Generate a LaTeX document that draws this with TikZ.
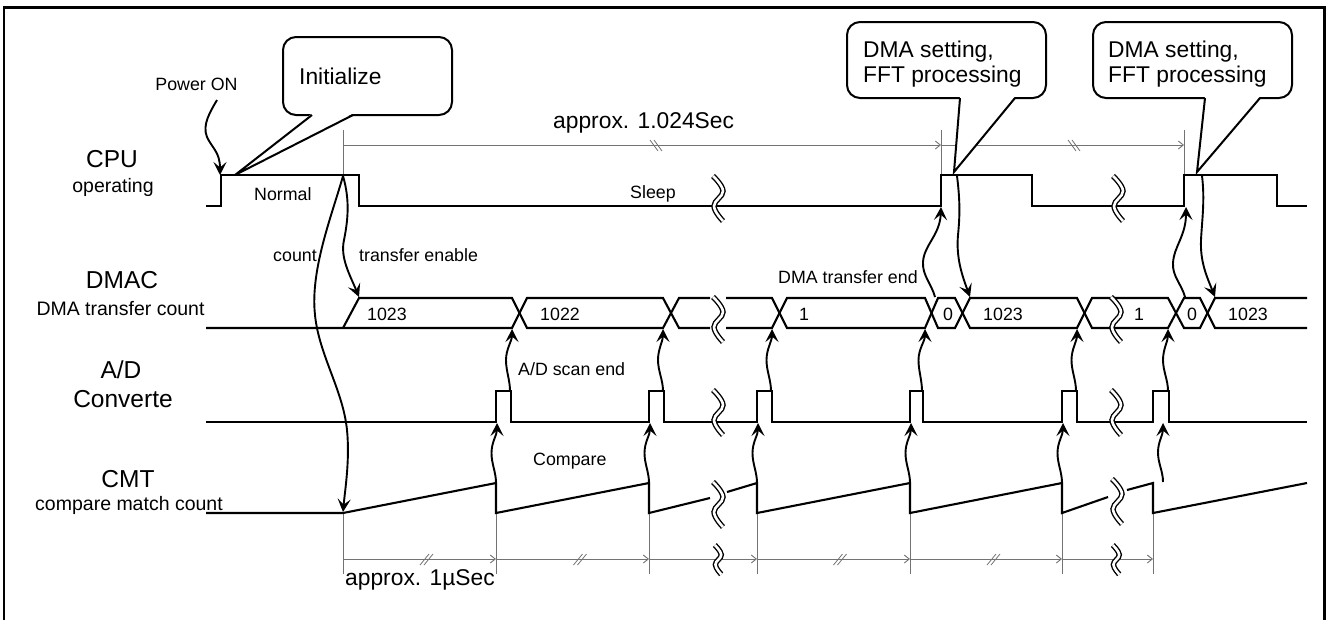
\documentclass[tikz,border=0pt]{standalone}
\usepackage{fontspec}
\setmainfont{Liberation Sans}
\usetikzlibrary{arrows.meta,calc}
\definecolor{dimgray}{gray}{0.45}
\newcommand\upwave[2]{\draw[wav] (#1) .. controls +(0,-11) and +(0,11) .. ($(#1)!0.5!(#2)+(-5,0)$) .. controls +(0,-11) and +(0,12) .. (#2);}
\begin{document}
\begin{tikzpicture}[x=1pt,y=-1pt,
  sig/.style={line width=2.1pt, line join=miter},
  dimln/.style={draw=dimgray, line width=0.9pt},
  dimarr/.style={dimln, -{Straight Barb[length=5pt,width=8pt]}},
  slashln/.style={draw=dimgray, line width=0.8pt},
  wav/.style={line width=1.9pt, -{Stealth[length=13pt,width=13pt,inset=5.5pt]}},
  brkline/.style={double=white, double distance=2.6pt, line width=1.4pt},
  brk/.pic={\draw[brkline] plot[smooth,tension=0.7] coordinates {(-5,-23) (5,-8) (-4,7) (5,22)};},
  callbox/.style={line width=2pt, rounded corners=13pt, fill=white},
  big/.style={inner sep=0pt, font=\fontsize{24.5}{28}\selectfont, anchor=base},
  mid/.style={inner sep=0pt, font=\fontsize{19.5}{22}\selectfont, anchor=base},
  sml/.style={inner sep=0pt, font=\fontsize{17.8}{20}\selectfont, anchor=base west},
  call/.style={inner sep=0pt, font=\fontsize{22.8}{26}\selectfont, anchor=base west}]
\useasboundingbox (0,0) rectangle (1327,619);
\draw[line width=2.6pt] (4,7.5) rectangle (1324.5,622);

% ---------- signal names ----------
\node[big] (cpu) at (112,167) {CPU};
\node[mid] (cpus) at (113,192) {operating};
\node[big] (dmac) at (122,288) {DMAC};
\node[mid] (dmacs) at (120.5,315) {DMA transfer count};
\node[big] (ad) at (121,378) {A/D};
\node[big] (ads) at (123,407) {Converte};
\node[big] (cmt) at (128,487) {CMT};
\node[mid] (cmts) at (129,510) {compare match count};

% ---------- dimension lines ----------
\draw[dimln] (343,130) -- (343,175);
\draw[dimln] (941,130) -- (941,175);
\draw[dimln] (1184,130) -- (1184,175);
\draw[dimarr] (343,145) -- (941,145);
\draw[dimarr] (941,145) -- (1184,145);
\foreach \cx in {656,1074}{
  \draw[slashln] (\cx-6,140) -- (\cx+2,151);
  \draw[slashln] (\cx-2,140) -- (\cx+6,151);}
\foreach \xx in {343,496,649,757,910,1062,1153}{\draw[dimln] (\xx,513) -- (\xx,574);}
\draw[dimarr] (343,559) -- (496,559);
\draw[dimarr] (496,559) -- (649,559);
\draw[dimarr] (649,559) -- (757,559);
\draw[dimarr] (757,559) -- (910,559);
\draw[dimarr] (910,559) -- (1062,559);
\draw[dimarr] (1062,559) -- (1153,559);
\foreach \cx in {426.5,580,840,993.5}{
  \draw[slashln] (\cx-6.5,565) -- (\cx+2.5,554);
  \draw[slashln] (\cx-2.5,565) -- (\cx+6.5,554);}

% ---------- CPU ----------
\draw[sig] (206,206) -- (221,206) -- (221,175) -- (359,175) -- (359,206) -- (941,206) -- (941,175) -- (1032,175) -- (1032,206) -- (1184,206) -- (1184,175) -- (1277,175) -- (1277,206) -- (1307,206);

% ---------- DMAC ----------
\draw[sig] (206,328) -- (512,328) -- (527,298) -- (663,298) -- (679,328) -- (710,328);
\draw[sig] (343,328) -- (359,298) -- (512,298) -- (527,328) -- (663,328) -- (679,298) -- (710,298);
\draw[sig] (726,328) -- (772,328) -- (787,298) -- (925,298) -- (938,328) -- (955,328) -- (970,298) -- (1077,298) -- (1092,328) -- (1168,328) -- (1184,298) -- (1200,298) -- (1215,328) -- (1307,328);
\draw[sig] (726,298) -- (772,298) -- (787,328) -- (925,328) -- (938,298) -- (955,298) -- (970,328) -- (1077,328) -- (1092,298) -- (1168,298) -- (1184,328) -- (1200,328) -- (1215,298) -- (1307,298);

% ---------- A/D ----------
\draw[sig] (206,422) -- (496,422) -- (496,391) -- (511,391) -- (511,422) -- (649,422) -- (649,391) -- (664,391) -- (664,422) -- (757,422) -- (757,391) -- (772,391) -- (772,422) -- (910,422) -- (910,391) -- (923,391) -- (923,422) -- (1062,422) -- (1062,391) -- (1077,391) -- (1077,422) -- (1153,422) -- (1153,391) -- (1169,391) -- (1169,422) -- (1307,422);

% ---------- CMT ----------
\draw[sig] (206,513) -- (343,513) -- (496,483) -- (496,513) -- (649,483) -- (649,513) -- (710,498);
\draw[sig] (727,492) -- (757,483) -- (757,513) -- (910,483) -- (910,513) -- (1062,483) -- (1062,513) -- (1108,497);
\draw[sig] (1127,490) -- (1153,483) -- (1153,513) -- (1307,483);

% ---------- breaks ----------
\pic at (718,199) {brk};
\pic at (1118,199) {brk};
\pic at (718,320) {brk};
\pic at (1116,320) {brk};
\pic at (718,413) {brk};
\pic at (1116,413) {brk};
\pic at (718,505) {brk};
\pic at (1117,502) {brk};
\pic[scale=0.65] at (718,560) {brk};
\pic[scale=0.65] at (1116,560) {brk};

% ---------- labels ----------
\node[sml, anchor=base] (pon) at (196.5,90) {Power ON};
\node[sml] (nrm) at (254,200) {Normal};
\node[sml] (slp) at (630,198) {Sleep};
\node[sml] (cnt) at (273,261) {count};
\node[sml] (ten) at (359,261) {transfer enable};
\node[sml] (v1) at (367,320) {1023};
\node[sml] (v2) at (540,320) {1022};
\node[sml] (v3) at (799,320) {1};
\node[sml, anchor=base] (v4) at (948,320) {0};
\node[sml] (v5) at (983,320) {1023};
\node[sml] (v6) at (1134,320) {1};
\node[sml, anchor=base] (v7) at (1192,320) {0};
\node[sml] (v8) at (1228,320) {1023};
\node[sml] (dte) at (778,283) {DMA transfer end};
\node[sml] (ase) at (518,375) {A/D scan end};
\node[sml] (cmp) at (533,465) {Compare};
\node[call] (ap1) at (553,128) {approx. 1.024Sec};
\node[call] (ap2) at (345,585) {approx. 1µSec};

% ---------- callouts ----------
\draw[callbox] (283,37) rectangle (452,115);
\fill[white] (312,113.5) -- (235,175) -- (353,113.5) -- cycle;
\draw[line width=2pt, line join=miter] (312,115) -- (235,175) -- (353,115);
\node[call] (c1) at (299,84) {Initialize};

\draw[callbox] (847,22) rectangle (1046,98);
\fill[white] (960,96.5) -- (954,172) -- (1015,96.5) -- cycle;
\draw[line width=2pt, line join=miter] (960,98) -- (954,172) -- (1015,98);
\node[call] (c2a) at (863,57) {DMA setting,};
\node[call] (c2b) at (863,82) {FFT processing};

\draw[callbox] (1093,22) rectangle (1292,98);
\fill[white] (1205,96.5) -- (1197,172) -- (1260,96.5) -- cycle;
\draw[line width=2pt, line join=miter] (1205,98) -- (1197,172) -- (1260,98);
\node[call] (c3a) at (1108,57) {DMA setting,};
\node[call] (c3b) at (1108,82) {FFT processing};

% ---------- wave connectors ----------
\coordinate (pw0) at (217,100); \coordinate (pw1) at (220,175);
\draw[wav] (pw0) .. controls (210,112) and (202,125) .. (207,137) .. controls (212,148) and (220,152) .. (pw1);

\coordinate (cf) at (343,176); \coordinate (cm) at (343,512); \coordinate (te) at (359,297);
\draw[wav] (cf) .. controls (332,215) and (310,270) .. (315,315) .. controls (319,355) and (343,390) .. (347,430) .. controls (350,460) and (345,490) .. (cm);
\draw[wav] (cf) .. controls (350,200) and (348,220) .. (344,240) .. controls (340,258) and (350,275) .. (te);

% A/D scan end
\coordinate (s1a) at (510,391); \coordinate (s1b) at (512,329);
\coordinate (s2a) at (663,391); \coordinate (s2b) at (663,329);
\coordinate (s3a) at (771,391); \coordinate (s3b) at (772,329);
\coordinate (s4a) at (922,391); \coordinate (s4b) at (925,329);
\coordinate (s5a) at (1076,391); \coordinate (s5b) at (1077,329);
\coordinate (s6a) at (1168,391); \coordinate (s6b) at (1168,329);
\upwave{s1a}{s1b}\upwave{s2a}{s2b}\upwave{s3a}{s3b}
\upwave{s4a}{s4b}\upwave{s5a}{s5b}\upwave{s6a}{s6b}

% Compare
\coordinate (m1a) at (496,483); \coordinate (m1b) at (497,423);
\coordinate (m2a) at (649,483); \coordinate (m2b) at (650,423);
\coordinate (m3a) at (757,483); \coordinate (m3b) at (758,423);
\coordinate (m4a) at (910,483); \coordinate (m4b) at (911,423);
\coordinate (m5a) at (1062,483); \coordinate (m5b) at (1063,423);
\coordinate (m6a) at (1163,482); \coordinate (m6b) at (1163,423);
\upwave{m1a}{m1b}\upwave{m2a}{m2b}\upwave{m3a}{m3b}
\upwave{m4a}{m4b}\upwave{m5a}{m5b}\upwave{m6a}{m6b}

% DMA transfer end -> CPU
\coordinate (de0) at (935,297); \coordinate (de1) at (941,207);
\coordinate (de2) at (1185,297); \coordinate (de3) at (1186,207);
\draw[wav] (de0) .. controls (932,285) and (922,275) .. (923,262) .. controls (924,245) and (940,235) .. (de1);
\draw[wav] (de2) .. controls (1182,285) and (1172,276) .. (1173,263) .. controls (1174,246) and (1186,236) .. (de3);

% CPU -> DMAC
\coordinate (dd0) at (957,176); \coordinate (dd1) at (970,297);
\coordinate (dd2) at (1202,176); \coordinate (dd3) at (1215,297);
\draw[wav] (dd0) .. controls (960,200) and (960,215) .. (958,235) .. controls (956,258) and (962,275) .. (dd1);
\draw[wav] (dd2) .. controls (1205,200) and (1202,220) .. (1201,240) .. controls (1200,262) and (1207,277) .. (dd3);
\end{tikzpicture}
\end{document}
